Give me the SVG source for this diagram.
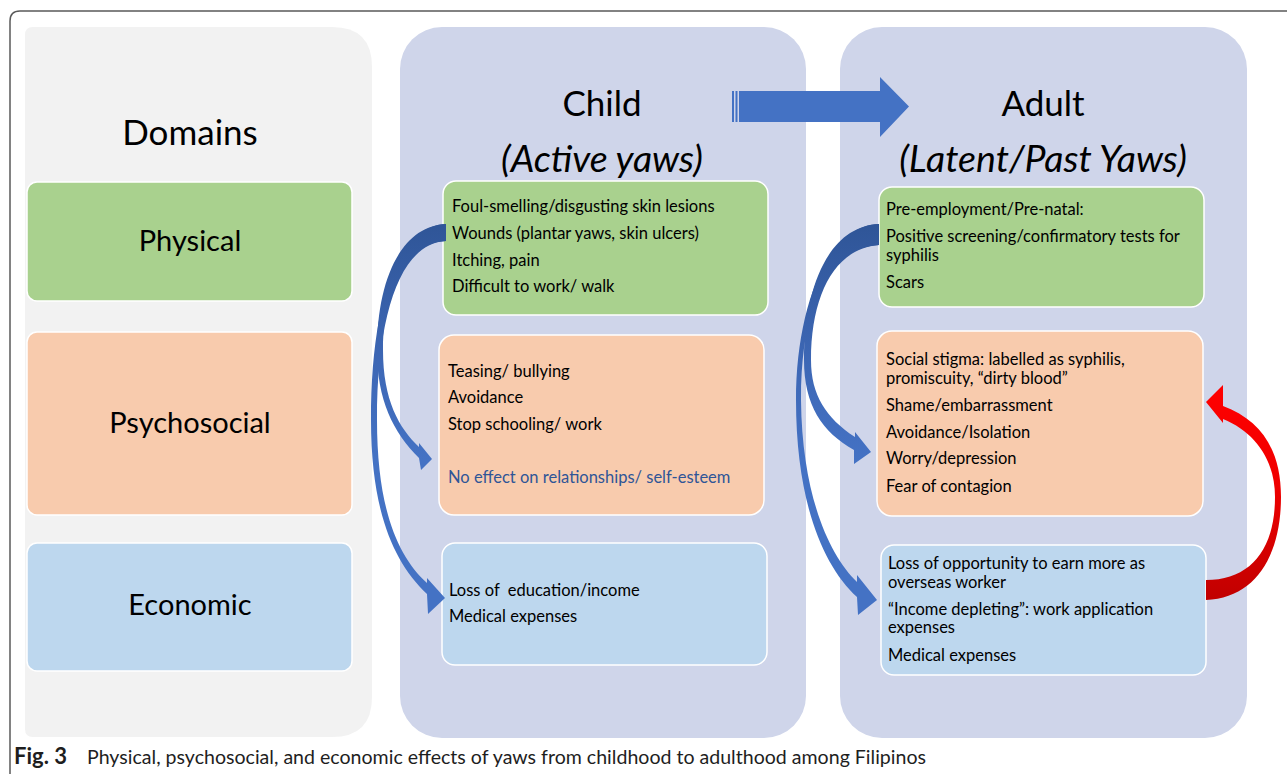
<svg xmlns="http://www.w3.org/2000/svg" width="1287" height="774" viewBox="0 0 1287 774">
  <defs>
    <style>
      .frame { fill: none; stroke: #5a5a5a; stroke-width: 1.5; }
      .panel-grey { fill: #f2f2f2; }
      .panel-lav { fill: #cfd5ea; }
      .box { stroke: #ffffff; stroke-width: 1.5; }
      .green { fill: #a9d18e; }
      .orange { fill: #f8cbad; }
      .blue { fill: #bdd7ee; }
      .title { font-family: Lato, "Open Sans", "Liberation Sans", sans-serif; font-size: 35px; fill: #000; text-anchor: middle; }
      .subtitle { font-family: Lato, "Open Sans", "Liberation Sans", sans-serif; font-size: 37.5px; font-style: italic; fill: #000; text-anchor: middle; }
      .domain { font-family: Lato, "Open Sans", "Liberation Sans", sans-serif; font-size: 29px; fill: #000; text-anchor: middle; }
      .item { font-family: Lato, "Open Sans", "Liberation Sans", sans-serif; font-size: 16.5px; fill: #000; white-space: pre; }
      .note { fill: #2f5597; }
      .caption { font-family: Lato, "Open Sans", "Liberation Sans", sans-serif; font-size: 19.5px; fill: #1e1e1e; }
      .caption-bold { font-weight: bold; font-size: 22px; }
      .flow-blue { fill: url(#blueShade); }
      .flow-red { fill: url(#redShade); }
      .big-arrow { fill: #4472c4; }
    </style>
    <linearGradient id="blueShade" gradientUnits="userSpaceOnUse" x1="0" y1="222" x2="0" y2="620">
      <stop offset="0" stop-color="#2f5597"/>
      <stop offset="0.35" stop-color="#3d67b5"/>
      <stop offset="0.6" stop-color="#4472c4"/>
      <stop offset="1" stop-color="#4472c4"/>
    </linearGradient>
    <linearGradient id="redShade" gradientUnits="userSpaceOnUse" x1="0" y1="385" x2="0" y2="602">
      <stop offset="0" stop-color="#ff0000"/>
      <stop offset="0.45" stop-color="#f00000"/>
      <stop offset="1" stop-color="#c00000"/>
    </linearGradient>
  </defs>

  <!-- outer figure frame (top and left edges) -->
  <path class="frame" d="M10,774 V21 Q10,11 20,11 H1287"/>

  <!-- column panels -->
  <g id="panel-domains">
    <path class="panel-grey" d="M25,35 Q25,27 33,27 H332 Q372,27 372,67 V697 Q372,737 332,737 H33 Q25,737 25,729 Z"/>
    <text class="title" x="190" y="145">Domains</text>
  </g>
  <g id="panel-child">
    <rect class="panel-lav" x="400" y="27" width="406" height="711" rx="42"/>
    <text class="title" x="602" y="116">Child</text>
    <text class="subtitle" x="602" y="172">(Active yaws)</text>
  </g>
  <g id="panel-adult">
    <rect class="panel-lav" x="840" y="27" width="407" height="711" rx="42"/>
    <text class="title" x="1043" y="116">Adult</text>
    <text class="subtitle" x="1043" y="172">(Latent/Past Yaws)</text>
  </g>

  <!-- domain labels -->
  <g id="domain-physical">
    <rect class="box green" x="27" y="182" width="325" height="119" rx="10"/>
    <text class="domain" x="190" y="251">Physical</text>
  </g>
  <g id="domain-psychosocial">
    <rect class="box orange" x="27" y="332" width="325" height="183" rx="10"/>
    <text class="domain" x="190" y="433">Psychosocial</text>
  </g>
  <g id="domain-economic">
    <rect class="box blue" x="27" y="543" width="325" height="128" rx="10"/>
    <text class="domain" x="190" y="615">Economic</text>
  </g>

  <!-- child effects -->
  <g id="child-physical">
    <rect class="box green" x="443" y="181" width="325" height="134" rx="13"/>
    <text class="item" x="452" y="212">Foul-smelling/disgusting skin lesions</text>
    <text class="item" x="452" y="239">Wounds (plantar yaws, skin ulcers)</text>
    <text class="item" x="452" y="266">Itching, pain</text>
    <text class="item" x="452" y="292">Difficult to work/ walk</text>
  </g>
  <g id="child-psychosocial">
    <rect class="box orange" x="439" y="335" width="325" height="180" rx="15"/>
    <text class="item" x="448" y="377">Teasing/ bullying</text>
    <text class="item" x="448" y="403">Avoidance</text>
    <text class="item" x="448" y="430">Stop schooling/ work</text>
    <text class="item note" x="448" y="483">No effect on relationships/ self-esteem</text>
  </g>
  <g id="child-economic">
    <rect class="box blue" x="442" y="543" width="325" height="122" rx="13"/>
    <text class="item" x="449" y="596" xml:space="preserve">Loss of  education/income</text>
    <text class="item" x="449" y="622">Medical expenses</text>
  </g>

  <!-- adult effects -->
  <g id="adult-physical">
    <rect class="box green" x="879" y="187" width="325" height="120" rx="13"/>
    <text class="item" x="886" y="215">Pre-employment/Pre-natal:</text>
    <text class="item" x="886" y="242">Positive screening/confirmatory tests for</text>
    <text class="item" x="886" y="261">syphilis</text>
    <text class="item" x="886" y="288">Scars</text>
  </g>
  <g id="adult-psychosocial">
    <rect class="box orange" x="877" y="331" width="326" height="185" rx="15"/>
    <text class="item" x="886" y="365">Social stigma: labelled as syphilis,</text>
    <text class="item" x="886" y="384">promiscuity, “dirty blood”</text>
    <text class="item" x="886" y="411">Shame/embarrassment</text>
    <text class="item" x="886" y="438">Avoidance/Isolation</text>
    <text class="item" x="886" y="464">Worry/depression</text>
    <text class="item" x="886" y="492">Fear of contagion</text>
  </g>
  <g id="adult-economic">
    <rect class="box blue" x="881" y="545" width="325" height="130" rx="13"/>
    <text class="item" x="888" y="569">Loss of opportunity to earn more as</text>
    <text class="item" x="888" y="588">overseas worker</text>
    <text class="item" x="888" y="615">“Income depleting”: work application</text>
    <text class="item" x="888" y="633">expenses</text>
    <text class="item" x="888" y="661">Medical expenses</text>
  </g>

  <!-- connectors -->
  <g id="connectors">
    <!-- child to adult block arrow with striped tail -->
    <g id="child-to-adult">
      <rect class="big-arrow" x="732" y="91" width="2" height="31"/>
      <rect class="big-arrow" x="735.5" y="91" width="2" height="31"/>
      <path class="big-arrow" d="M739,91 H880 V77 L909,106.5 L880,137 V122 H739 Z"/>
    </g>
    <!-- child: physical -> psychosocial -->
    <path class="flow-blue" d="M446,224 C401,226 377,280 377,350 C377,400 393,432 419,458 L421,470 L432,459 L419,443 L419,447 C399,428 383,400 383,350 C383,290 405,243 446,241 Z"/>
    <!-- child: physical -> economic -->
    <path class="flow-blue" d="M446,224 C398,226 371,300 371,420 C371,510 393,562 427,594 L428,614 L445,598 L427,578 L427,583 C396,555 377,505 377,420 C377,310 402,243 446,241 Z"/>
    <!-- adult: physical -> psychosocial -->
    <path class="flow-blue" d="M879,224 C830,226 804,285 804,360 C804,405 822,432 854,450 L854,464 L871,452 L855,432 L855,437 C826,418 811,395 811,360 C811,295 835,248 879,245 Z"/>
    <!-- adult: physical -> economic -->
    <path class="flow-blue" d="M879,224 C826,226 796,310 796,400 C796,500 822,565 857,597 L858,615 L877,600 L857,575 L857,582 C829,555 802,495 801,400 C801,300 830,248 879,245 Z"/>
    <!-- adult: economic -> psychosocial feedback -->
    <path class="flow-red" d="M1206,600 C1256,598 1281,555 1281,497 C1281,450 1261,420 1223,406 L1223,385 L1206,402 L1223,423 L1223,419 C1255,432 1275,460 1275,497 C1275,550 1250,580 1206,580 Z"/>
  </g>

  <!-- caption -->
  <text class="caption caption-bold" x="14" y="764">Fig. 3</text>
  <text class="caption" x="87" y="764" textLength="839" lengthAdjust="spacingAndGlyphs">Physical, psychosocial, and economic effects of yaws from childhood to adulthood among Filipinos</text>
</svg>
